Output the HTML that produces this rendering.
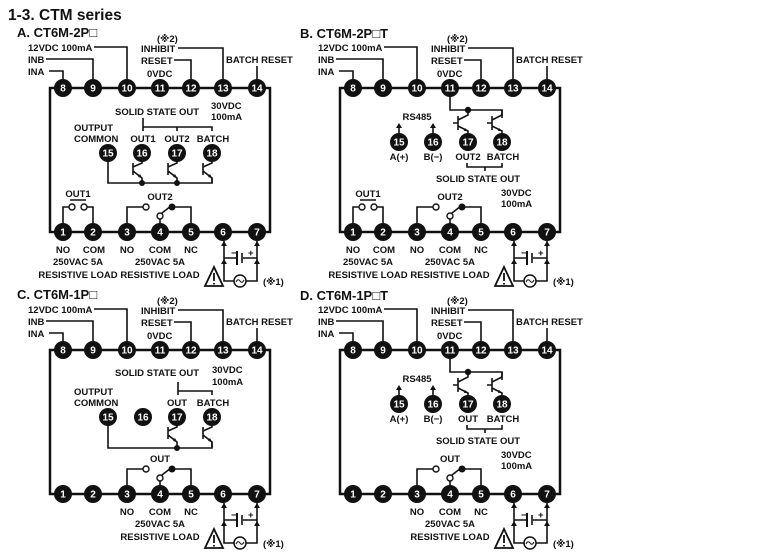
<!DOCTYPE html>
<html><head><meta charset="utf-8"><style>
html,body{margin:0;padding:0;background:#fff;}
svg{display:block;}
text{font-family:"Liberation Sans","DejaVu Sans",sans-serif;font-weight:bold;font-size:9.5px;fill:#111;}
.pn{fill:#fff;font-size:10px;text-anchor:middle;}
.c{text-anchor:middle;}
.w{fill:none;stroke:#111;stroke-width:1.6;}
.bx{fill:none;stroke:#111;stroke-width:2.5;}
</style></head><body>
<svg width="779" height="555" viewBox="0 0 779 555" xmlns="http://www.w3.org/2000/svg">
<defs>
<g id="trd"><path class="w" d="M0,8 V10 L-9,14 M-9,10 V22 M-9,18 L0,25 V30"/><path d="M0,25 l-4,-1 l2,-3 z" fill="#111"/></g>
<g id="tru"><path class="w" d="M0,-32 V-27 L-10,-22 M-10,-26 V-12 M-15,-19 H-10 M-10,-16 L0,-11 V-8"/><path d="M0,-11 l-4,0 l1,-3 z" fill="#111"/></g>
<g id="pins">
<rect class="bx" x="50" y="88" width="220" height="144"/>
<g fill="#111">
<circle cx="63" cy="88" r="9"/><circle cx="93" cy="88" r="9"/><circle cx="127" cy="88" r="9"/><circle cx="160" cy="88" r="9"/><circle cx="191" cy="88" r="9"/><circle cx="223" cy="88" r="9"/><circle cx="257" cy="88" r="9"/>
<circle cx="63" cy="232" r="9"/><circle cx="93" cy="232" r="9"/><circle cx="127" cy="232" r="9"/><circle cx="160" cy="232" r="9"/><circle cx="191" cy="232" r="9"/><circle cx="223" cy="232" r="9"/><circle cx="257" cy="232" r="9"/>
</g>
<path class="w" d="M94,47 H127 V88 M46,59 H93 V88 M49,71 H63 V88 M178,48 H223 V88 M174,60 H191 V88 M257,66 V88"/>
<path class="w" d="M224,241 V281 H234 M246,281 H257 V241 M224,258 H237 M243,258 H257"/>
<path class="w" d="M237,251 V265" style="stroke-width:2"/><path class="w" d="M242,253 V263"/>
<circle cx="240" cy="281" r="6" fill="#fff" stroke="#111" stroke-width="1.5"/>
<path class="w" d="M236,282 q2,-4 4,-1 q2,3 4,-1" style="stroke-width:1"/>
<path fill="#111" d="M224,241 l-3,5 h6 z M257,241 l-3,5 h6 z M224,259 l-3,5 h6 z M257,259 l-3,5 h6 z"/>
<path d="M205,286 L214,267 L223,286 Z" fill="#fff" stroke="#111" stroke-width="1.8"/>
<path d="M214,273 V281 M214,283 V284.5" stroke="#111" stroke-width="1.8"/>
</g>
<g id="c2">
<path class="w" d="M127,224 V207 H143 M160,224 V219 M162,213 L171,206 M172,207 H191 V224"/>
<circle cx="146" cy="207" r="3" fill="#fff" stroke="#111" stroke-width="1.4"/>
<circle cx="160" cy="216" r="3" fill="#fff" stroke="#111" stroke-width="1.4"/>
<circle cx="172" cy="207" r="3.5" fill="#111"/>
</g>
<g id="c1">
<path class="w" d="M63,224 V207 H69 M87,207 H93 V224 M70,200 H86"/>
<circle cx="72" cy="207" r="3" fill="#fff" stroke="#111" stroke-width="1.4"/>
<circle cx="84" cy="207" r="3" fill="#fff" stroke="#111" stroke-width="1.4"/>
</g>
<g id="rsint">
<path class="w" d="M160,96 V110 H212 V118 M109,134 V127 M143,134 V127 M177,163 V167 H212 V163 M195,167 V171"/>
<circle cx="178" cy="110" r="3.2" fill="#111"/>
<path fill="#111" d="M109,123 l-3,5 h6 z M143,123 l-3,5 h6 z"/>
<use href="#tru" x="178" y="142"/><use href="#tru" x="212" y="142"/>
<g fill="#111"><circle cx="109" cy="142" r="9"/><circle cx="143" cy="142" r="9"/><circle cx="178" cy="142" r="9"/><circle cx="212" cy="142" r="9"/></g>
</g>
</defs>

<text x="8" y="20" style="font-size:15.5px">1-3. CTM series</text>
<text x="17" y="37" style="font-size:13px">A. CT6M-2P□</text>
<text x="300" y="38" style="font-size:13px">B. CT6M-2P□T</text>
<text x="17" y="299" style="font-size:13px">C. CT6M-1P□</text>
<text x="300" y="300" style="font-size:13px">D. CT6M-1P□T</text>

<g id="panelA">
<use href="#pins"/>
<text x="28" y="51">12VDC 100mA</text><text x="28" y="63">INB</text><text x="28" y="75">INA</text>
<text x="157" y="42">(※2)</text><text x="141" y="52">INHIBIT</text><text x="141" y="64">RESET</text>
<text x="147" y="77">0VDC</text><text x="226" y="63">BATCH RESET</text>
<text class="pn" x="63" y="91.5">8</text><text class="pn" x="93" y="91.5">9</text><text class="pn" x="127" y="91.5">10</text><text class="pn" x="160" y="91.5">11</text><text class="pn" x="191" y="91.5">12</text><text class="pn" x="223" y="91.5">13</text><text class="pn" x="257" y="91.5">14</text>
<text class="pn" x="63" y="235.5">1</text><text class="pn" x="93" y="235.5">2</text><text class="pn" x="127" y="235.5">3</text><text class="pn" x="160" y="235.5">4</text><text class="pn" x="191" y="235.5">5</text><text class="pn" x="223" y="235.5">6</text><text class="pn" x="257" y="235.5">7</text>
<text x="263" y="285">(※1)</text>
<text x="231" y="256">−</text><text x="248" y="256">+</text>
</g>
<use href="#panelA" x="290" y="0"/>
<use href="#panelA" x="0" y="262"/>
<use href="#panelA" x="290" y="262"/>

<text x="115" y="115">SOLID STATE OUT</text><text x="211" y="109">30VDC</text><text x="211" y="120">100mA</text>
<path class="w" d="M143,118 V131 M143,127 H212 V131 M177,127 V131"/>
<text x="74" y="131">OUTPUT</text><text x="74" y="142">COMMON</text>
<text class="c" x="143" y="142">OUT1</text><text class="c" x="177" y="142">OUT2</text><text class="c" x="213" y="142">BATCH</text>
<path class="w" d="M108,161 V183 H212 V178"/>
<use href="#trd" x="142" y="153"/><use href="#trd" x="177" y="153"/><use href="#trd" x="212" y="153"/>
<circle cx="142" cy="183" r="3" fill="#111"/><circle cx="177" cy="183" r="3" fill="#111"/>
<g fill="#111"><circle cx="108" cy="153" r="9"/><circle cx="142" cy="153" r="9"/><circle cx="177" cy="153" r="9"/><circle cx="212" cy="153" r="9"/></g>
<text class="pn" x="108" y="156.5">15</text><text class="pn" x="142" y="156.5">16</text><text class="pn" x="177" y="156.5">17</text><text class="pn" x="212" y="156.5">18</text>
<use href="#c1"/><use href="#c2"/>
<text class="c" x="78" y="197">OUT1</text><text class="c" x="160" y="200">OUT2</text>
<text class="c" x="63" y="253">NO</text><text class="c" x="94" y="253">COM</text><text class="c" x="127" y="253">NO</text><text class="c" x="160" y="253">COM</text><text class="c" x="191" y="253">NC</text>
<text class="c" x="78" y="265">250VAC 5A</text><text class="c" x="160" y="265">250VAC 5A</text>
<text class="c" x="78" y="278">RESISTIVE LOAD</text><text class="c" x="160" y="278">RESISTIVE LOAD</text>

<g transform="translate(290,0)">
<use href="#rsint"/>
<text class="pn" x="109" y="145.5">15</text><text class="pn" x="143" y="145.5">16</text><text class="pn" x="178" y="145.5">17</text><text class="pn" x="212" y="145.5">18</text>
<text class="c" x="127" y="120">RS485</text>
<text class="c" x="109" y="160">A(+)</text><text class="c" x="143" y="160">B(−)</text><text class="c" x="178" y="160">OUT2</text><text class="c" x="213" y="160">BATCH</text>
<text class="c" x="188" y="182">SOLID STATE OUT</text><text x="211" y="196">30VDC</text><text x="211" y="207">100mA</text>
<use href="#c1"/><use href="#c2"/>
<text class="c" x="78" y="197">OUT1</text><text class="c" x="160" y="200">OUT2</text>
<text class="c" x="63" y="253">NO</text><text class="c" x="94" y="253">COM</text><text class="c" x="127" y="253">NO</text><text class="c" x="160" y="253">COM</text><text class="c" x="191" y="253">NC</text>
<text class="c" x="78" y="265">250VAC 5A</text><text class="c" x="160" y="265">250VAC 5A</text>
<text class="c" x="78" y="278">RESISTIVE LOAD</text><text class="c" x="160" y="278">RESISTIVE LOAD</text>
</g>

<g transform="translate(0,262)">
<text x="115" y="114">SOLID STATE OUT</text><text x="212" y="111">30VDC</text><text x="212" y="123">100mA</text>
<path class="w" d="M178,120 V133 M178,129 H212 V133"/>
<text x="74" y="133">OUTPUT</text><text x="74" y="144">COMMON</text>
<text class="c" x="177" y="144">OUT</text><text class="c" x="213" y="144">BATCH</text>
<path class="w" d="M108,163 V186 H212 V180"/>
<use href="#trd" x="177" y="155"/><use href="#trd" x="212" y="155"/>
<circle cx="177" cy="186" r="3" fill="#111"/>
<g fill="#111"><circle cx="108" cy="155" r="9"/><circle cx="143" cy="155" r="9"/><circle cx="177" cy="155" r="9"/><circle cx="212" cy="155" r="9"/></g>
<text class="pn" x="108" y="158.5">15</text><text class="pn" x="143" y="158.5">16</text><text class="pn" x="177" y="158.5">17</text><text class="pn" x="212" y="158.5">18</text>
<use href="#c2"/>
<text class="c" x="160" y="200">OUT</text>
<text class="c" x="127" y="253">NO</text><text class="c" x="160" y="253">COM</text><text class="c" x="191" y="253">NC</text>
<text class="c" x="160" y="265">250VAC 5A</text><text class="c" x="160" y="278">RESISTIVE LOAD</text>
</g>

<g transform="translate(290,262)">
<use href="#rsint"/>
<text class="pn" x="109" y="145.5">15</text><text class="pn" x="143" y="145.5">16</text><text class="pn" x="178" y="145.5">17</text><text class="pn" x="212" y="145.5">18</text>
<text class="c" x="127" y="120">RS485</text>
<text class="c" x="109" y="160">A(+)</text><text class="c" x="143" y="160">B(−)</text><text class="c" x="178" y="160">OUT</text><text class="c" x="213" y="160">BATCH</text>
<text class="c" x="188" y="182">SOLID STATE OUT</text><text x="211" y="196">30VDC</text><text x="211" y="207">100mA</text>
<use href="#c2"/>
<text class="c" x="160" y="200">OUT</text>
<text class="c" x="127" y="253">NO</text><text class="c" x="160" y="253">COM</text><text class="c" x="191" y="253">NC</text>
<text class="c" x="160" y="265">250VAC 5A</text><text class="c" x="160" y="278">RESISTIVE LOAD</text>
</g>
</svg>
</body></html>
